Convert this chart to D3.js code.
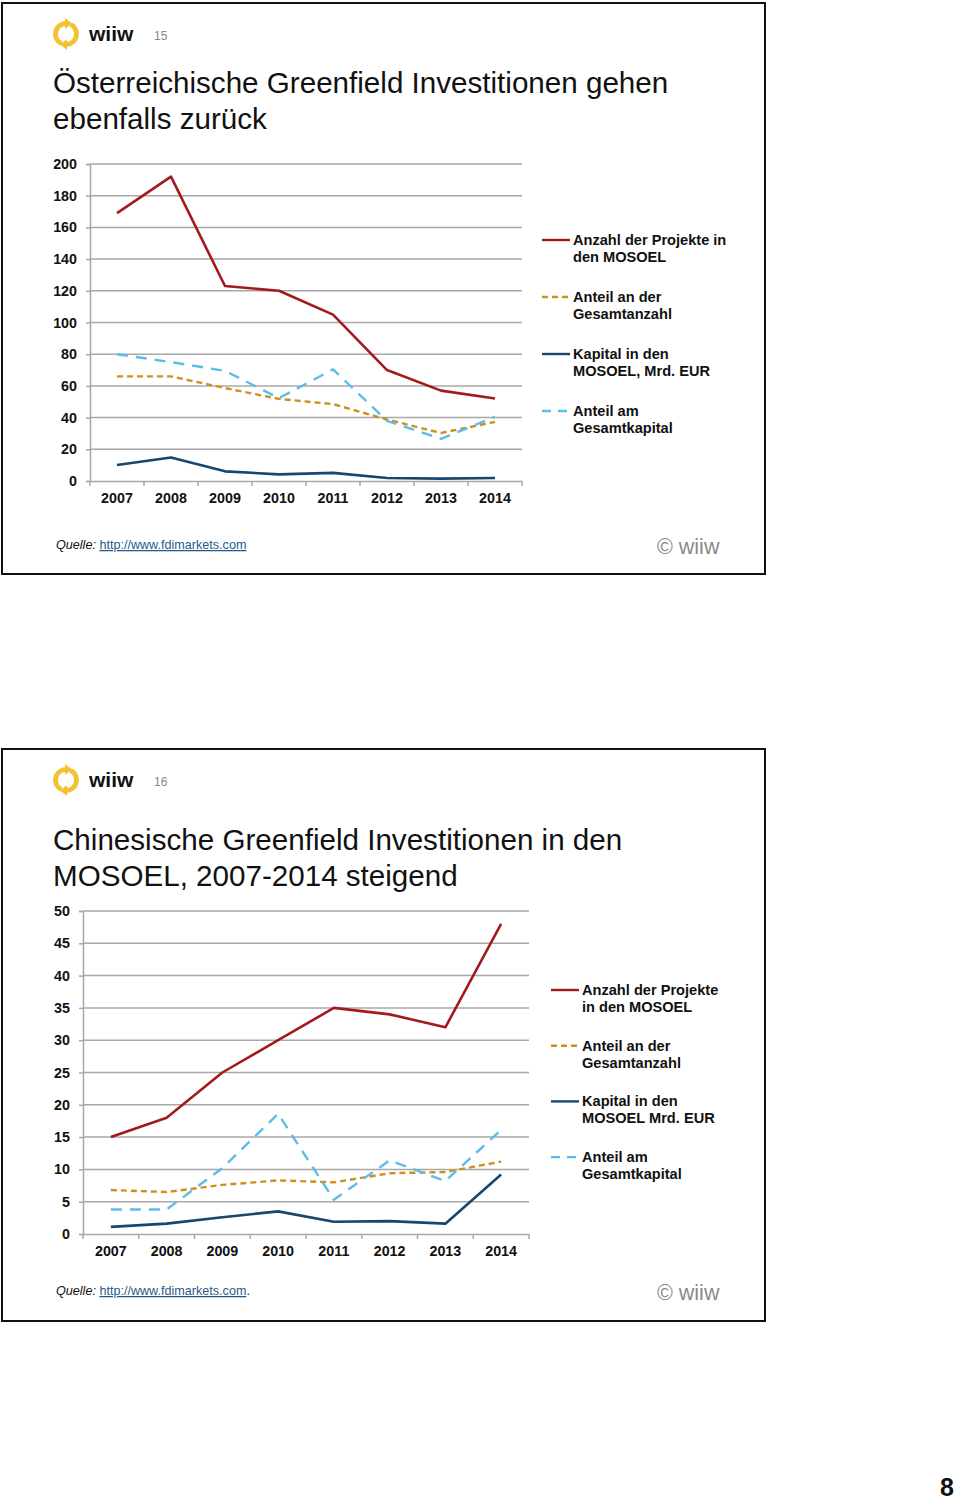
<!DOCTYPE html>
<html><head><meta charset="utf-8">
<script src="https://cdn.jsdelivr.net/npm/d3@7"></script>
<style>body{margin:0;background:#fff;} svg{display:block;font-family:"Liberation Sans",Arial,sans-serif;}</style>
</head><body>
<script>
const years = ["2007","2008","2009","2010","2011","2012","2013","2014"];
// Slide 15: Austria
const atProjects = [169,192,123,120,105,70,57,52];
const atShareCount = [66,66,58.6,51.8,48.5,38.8,30.3,37.3];
const atCapital = [10.1,14.8,6.1,4.2,5.1,1.9,1.5,1.9];
const atShareCapital = [80,75,69.5,52.3,70.4,38,26.6,40.5];
const atTicks = [0,20,40,60,80,100,120,140,160,180,200];
const atLegend = ["Anzahl der Projekte in|den MOSOEL","Anteil an der|Gesamtanzahl","Kapital in den|MOSOEL, Mrd. EUR","Anteil am|Gesamtkapital"];
// Slide 16: China
const cnProjects = [15,18,25,30,35,34,32,48];
const cnShareCount = [6.8,6.5,7.6,8.3,8.0,9.4,9.6,11.2];
const cnCapital = [1.1,1.6,2.6,3.5,1.9,2.0,1.6,9.2];
const cnShareCapital = [3.8,3.8,10.2,18.6,5.3,11.4,8.2,16.1];
const cnTicks = [0,5,10,15,20,25,30,35,40,45,50];
const cnLegend = ["Anzahl der Projekte|in den MOSOEL","Anteil an der|Gesamtanzahl","Kapital in den|MOSOEL Mrd. EUR","Anteil am|Gesamtkapital"];

const seriesStyle = [
  {color:"#A31A1E", dash:null, w:2.6},
  {color:"#D08F1C", dash:"6,4", w:2.4},
  {color:"#17476E", dash:null, w:2.6},
  {color:"#5BBDE8", dash:"11,8", w:2.4}
];

const W=960,H=1503;
const svg=d3.select("body").append("svg").attr("width",W).attr("height",H);

function slide(cfg){
  const g=svg.append("g");
  g.append("rect").attr("x",2).attr("y",cfg.top).attr("width",763).attr("height",cfg.h)
   .attr("fill","#fff").attr("stroke","#111").attr("stroke-width",2);
  // logo
  const lg=g.append("g").attr("transform",`translate(66,${cfg.logoY})`);
  const arc=d3.arc().innerRadius(8).outerRadius(13);
  lg.append("path").attr("d",arc({startAngle:0.45,endAngle:Math.PI-0.05})).attr("fill","#F2C230");
  lg.append("path").attr("d",arc({startAngle:Math.PI+0.45,endAngle:2*Math.PI-0.05})).attr("fill","#F2C230");
  lg.append("path").attr("d","M-1,-16 L6,-10.5 L-1,-5Z").attr("fill","#F2C230");
  lg.append("path").attr("d","M1,16 L-6,10.5 L1,5Z").attr("fill","#F2C230");
  g.append("text").attr("x",89).attr("y",cfg.logoY+7).attr("font-size",21).attr("font-weight","bold")
   .attr("fill","#111").text("wiiw");
  g.append("text").attr("x",154).attr("y",cfg.logoY+6).attr("font-size",12).attr("fill","#888").text(cfg.num);
  // title
  cfg.title.forEach((t,i)=>{
    g.append("text").attr("x",53).attr("y",cfg.titleY+i*36).attr("font-size",29.6).attr("fill","#111").text(t);
  });
  // chart
  const x=d3.scaleBand().domain(years).range([cfg.x0,cfg.x1]);
  const y=d3.scaleLinear().domain([0,cfg.max]).range([cfg.yb,cfg.yt]);
  const grid=g.append("g");
  cfg.ticks.forEach(t=>{
    if(t>0) grid.append("line").attr("x1",cfg.x0).attr("x2",cfg.x1).attr("y1",y(t)).attr("y2",y(t))
      .attr("stroke","#A8A8A8").attr("stroke-width",1.5);
  });
  const ya=d3.axisLeft(y).tickValues(cfg.ticks).tickSize(4).tickPadding(6);
  const yag=g.append("g").attr("transform",`translate(${cfg.x0},0)`).call(ya);
  yag.selectAll("text").attr("font-size",14.3).attr("font-weight","bold").attr("fill","#111")
     .attr("font-family","Liberation Sans, Arial, sans-serif").attr("dx",-3);
  yag.selectAll("line,path").attr("stroke","#A8A8A8").attr("stroke-width",1.5);
  const xa=d3.axisBottom(x).tickSize(0).tickPadding(12);
  const xag=g.append("g").attr("transform",`translate(0,${cfg.yb})`).call(xa);
  xag.selectAll("text").attr("font-size",14.3).attr("font-weight","bold").attr("fill","#111")
     .attr("font-family","Liberation Sans, Arial, sans-serif");
  xag.select("path").attr("stroke","#A8A8A8").attr("stroke-width",1.5);
  const bounds=years.map(d=>x(d)).concat([cfg.x1]);
  xag.selectAll("line.bt").data(bounds).enter().append("line").attr("class","bt")
     .attr("x1",d=>d).attr("x2",d=>d).attr("y1",0).attr("y2",5).attr("stroke","#A8A8A8").attr("stroke-width",1.5);
  const line=d3.line().x((d,i)=>x(years[i])+x.bandwidth()/2).y(d=>y(d));
  const order=[1,3,2,0];
  order.forEach(k=>{
    const s=seriesStyle[k];
    g.append("path").attr("d",line(cfg.series[k])).attr("fill","none").attr("stroke",s.color)
     .attr("stroke-width",s.w).attr("stroke-dasharray",s.dash).attr("stroke-linejoin","round");
  });
  // legend
  cfg.legend.forEach((t,i)=>{
    const s=seriesStyle[i];
    const ly=cfg.legY+i*cfg.legStep;
    g.append("line").attr("x1",cfg.legX).attr("x2",cfg.legX+28).attr("y1",ly).attr("y2",ly)
     .attr("stroke",s.color).attr("stroke-width",2.4).attr("stroke-dasharray",s.dash?(i==1?"6,4":"9,7"):null);
    t.split("|").forEach((ln,j)=>{
      g.append("text").attr("x",cfg.legX+31).attr("y",ly+5+j*17).attr("font-size",14.6).attr("font-weight","bold")
       .attr("fill","#111").text(ln);
    });
  });
  // footer
  const ft=g.append("text").attr("x",56).attr("y",cfg.footY).attr("font-size",12.6).attr("fill","#111");
  ft.append("tspan").attr("font-style","italic").text("Quelle:");
  ft.append("tspan").text(" ");
  ft.append("tspan").attr("fill","#1F5A8A").attr("text-decoration","underline").text("http://www.fdimarkets.com");
  if(cfg.dot) ft.append("tspan").text(".");
  g.append("text").attr("x",657).attr("y",cfg.footY+5).attr("font-size",21.5).attr("fill","#8a8a8a").text("© wiiw");
}

slide({top:3,h:571,logoY:34,num:"15",titleY:93,
  title:["Österreichische Greenfield Investitionen gehen","ebenfalls zurück"],
  x0:90,x1:522,yt:164,yb:481,max:200,ticks:atTicks,
  series:[atProjects,atShareCount,atCapital,atShareCapital],
  legend:atLegend,legX:542,legY:240,legStep:57,footY:549,dot:false});
slide({top:749,h:572,logoY:780,num:"16",titleY:850,
  title:["Chinesische Greenfield Investitionen in den","MOSOEL, 2007-2014 steigend"],
  x0:83,x1:529,yt:911,yb:1234,max:50,ticks:cnTicks,
  series:[cnProjects,cnShareCount,cnCapital,cnShareCapital],
  legend:cnLegend,legX:551,legY:990,legStep:55.7,footY:1295,dot:true});

svg.append("text").attr("x",940).attr("y",1496).attr("font-size",25).attr("font-weight","bold").attr("fill","#111").text("8");
</script>
</body></html>
